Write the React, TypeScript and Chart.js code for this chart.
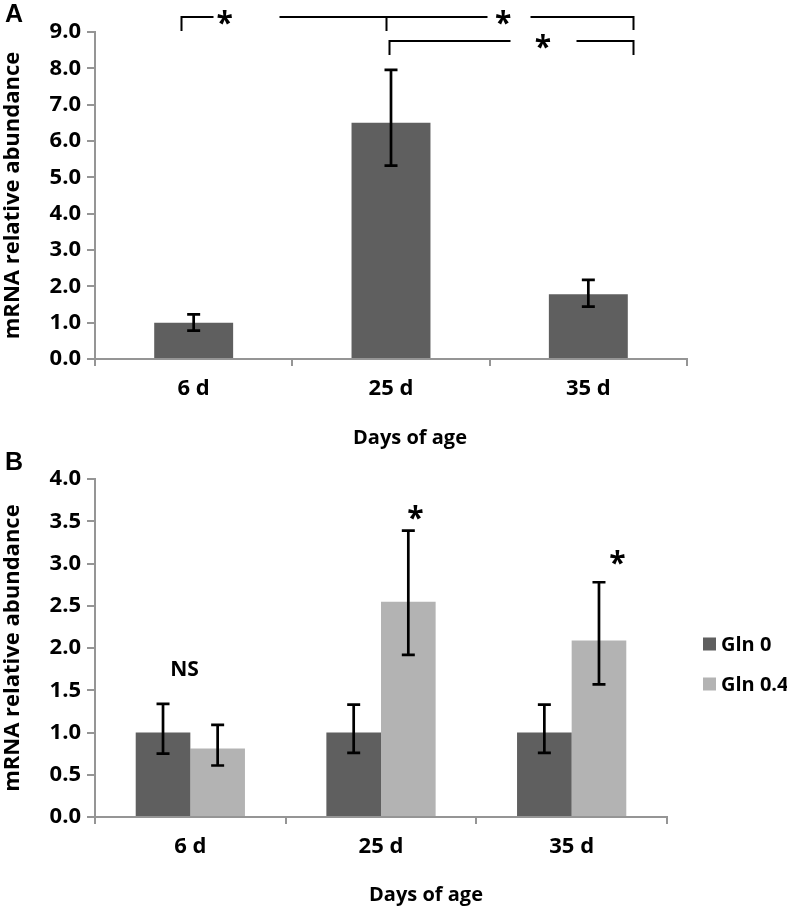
import React, { useEffect, useRef } from "react";
import { Chart, registerables } from "chart.js";

Chart.register(...registerables);

// ---------- data ----------
const categories = ["6 d", "25 d", "35 d"];

// Panel A
const aValues = [1.0, 6.5, 1.78];
const aErrPlus = [0.23, 1.46, 0.4];
const aErrMinus = [0.22, 1.18, 0.34];
const aYMax = 9;
const aYStep = 1;

// Panel B
const bSeriesLabels = ["Gln 0", "Gln 0.4"];
const bGln0 = [1.0, 1.0, 1.0];
const bGln0Plus = [0.34, 0.33, 0.33];
const bGln0Minus = [0.25, 0.24, 0.24];
const bGln04 = [0.81, 2.55, 2.09];
const bGln04Plus = [0.28, 0.84, 0.69];
const bGln04Minus = [0.2, 0.63, 0.52];
const bYMax = 4;
const bYStep = 0.5;

const xTitle = "Days of age";
const yTitle = "mRNA relative abundance";

// significance annotations (x in category index, y in data value)
const aBracketSegments = [
  [-0.066, 9.05, -0.066, 9.41],
  [-0.066, 9.41, 0.091, 9.41],
  [0.435, 9.41, 1.482, 9.41],
  [0.976, 9.41, 0.976, 9.05],
  [1.71, 9.41, 2.226, 9.41],
  [2.226, 9.41, 2.226, 9.08],
  [0.992, 8.39, 0.992, 8.75],
  [0.992, 8.75, 1.599, 8.75],
  [1.942, 8.75, 2.226, 8.75],
  [2.226, 8.75, 2.226, 8.39],
];
const aMarks: [string, number, number][] = [
  ["*", 0.157, 9.41],
  ["*", 1.568, 9.41],
  ["*", 1.77, 8.75],
];
const bMarks: [string, number, number][] = [
  ["NS", -0.03, 1.76],
  ["*", 1.18, 3.61],
  ["*", 2.24, 3.07],
];

// ---------- styles ----------
const DARK = "#5f5f5f";
const LIGHT = "#b3b3b3";
const AXIS = "#959595";
const FONT = "'Open Sans', 'Noto Sans', sans-serif";

const errorBarPlugin = {
  id: "errorBars",
  afterDatasetsDraw(chart: any) {
    const ctx = chart.ctx;
    const y = chart.scales.y;
    chart.data.datasets.forEach((ds: any, di: number) => {
      const meta = chart.getDatasetMeta(di);
      meta.data.forEach((el: any, i: number) => {
        const v = ds.data[i];
        const top = y.getPixelForValue(v + ds.errPlus[i]);
        const bot = y.getPixelForValue(v - ds.errMinus[i]);
        ctx.save();
        ctx.strokeStyle = "#000";
        ctx.lineWidth = 2.7;
        ctx.beginPath();
        ctx.moveTo(el.x, top);
        ctx.lineTo(el.x, bot);
        ctx.moveTo(el.x - 6.5, top);
        ctx.lineTo(el.x + 6.5, top);
        ctx.moveTo(el.x - 6.5, bot);
        ctx.lineTo(el.x + 6.5, bot);
        ctx.stroke();
        ctx.restore();
      });
    });
  },
};

function annotationPlugin(segments: number[][], marks: [string, number, number][], titleShift: number, titleFromBottom: number) {
  return {
    id: "annotations",
    afterDraw(chart: any) {
      const ctx = chart.ctx;
      const xs = chart.scales.x;
      const ys = chart.scales.y;
      ctx.save();
      ctx.strokeStyle = "#000";
      ctx.lineWidth = 2;
      ctx.lineCap = "square";
      ctx.beginPath();
      segments.forEach(([x1, y1, x2, y2]) => {
        ctx.moveTo(Math.round(xs.getPixelForValue(x1)) + 0.5, Math.round(ys.getPixelForValue(y1)));
        ctx.lineTo(Math.round(xs.getPixelForValue(x2)) + 0.5, Math.round(ys.getPixelForValue(y2)));
      });
      ctx.stroke();
      ctx.fillStyle = "#000";
      ctx.textAlign = "center";
      ctx.textBaseline = "alphabetic";
      marks.forEach(([t, xv, yv]) => {
        ctx.font = t === "*" ? `bold 30px ${FONT}` : `bold 21px ${FONT}`;
        const m = ctx.measureText(t);
        const px = xs.getPixelForValue(xv);
        const py = ys.getPixelForValue(yv) + (m.actualBoundingBoxAscent - m.actualBoundingBoxDescent) / 2;
        ctx.fillText(t, px, py);
      });
      // x-axis title
      ctx.font = `bold 20px ${FONT}`;
      ctx.textBaseline = "middle";
      ctx.fillText(xTitle, (xs.left + xs.right) / 2 + titleShift, chart.height - titleFromBottom);
      ctx.restore();
    },
  };
}

const legendPlugin = {
  id: "sideLegend",
  afterDraw(chart: any) {
    const ctx = chart.ctx;
    ctx.save();
    ctx.font = `bold 20px ${FONT}`;
    ctx.textBaseline = "middle";
    ctx.textAlign = "left";
    chart.data.datasets.forEach((ds: any, i: number) => {
      const cy = 184 + i * 40;
      ctx.fillStyle = ds.backgroundColor;
      ctx.fillRect(703, cy - 6.5, 13, 13);
      ctx.fillStyle = "#000";
      ctx.fillText(ds.label, 721, cy + 1);
    });
    ctx.restore();
  },
};

function makeOptions(yMax: number, yStep: number, xHeight: number, padTop: number, padRight: number) {
  return {
    animation: false,
    responsive: false,
    maintainAspectRatio: false,
    layout: { padding: { left: 0, right: padRight, top: padTop, bottom: 0 } },
    plugins: { legend: { display: false }, tooltip: { enabled: false } },
    scales: {
      x: {
        type: "category",
        offset: true,
        grid: { offset: true, drawOnChartArea: false, drawTicks: true, tickLength: 7, color: AXIS, lineWidth: 2 },
        border: { color: AXIS, width: 2 },
        ticks: { color: "#000", padding: 10, font: { family: FONT, size: 22, weight: "bold" } },
        title: { display: false, text: xTitle },
        afterFit(scale: any) {
          scale.height = xHeight;
        },
      },
      y: {
        min: 0,
        max: yMax,
        ticks: {
          stepSize: yStep,
          color: "#000",
          padding: 6,
          font: { family: FONT, size: 22, weight: "bold" },
          callback: (v: any) => Number(v).toFixed(1),
        },
        grid: { drawOnChartArea: false, drawTicks: true, tickLength: 8, color: AXIS, lineWidth: 2 },
        border: { color: AXIS, width: 2 },
        title: {
          display: true,
          text: yTitle,
          color: "#000",
          font: { family: FONT, size: 22, weight: "bold", lineHeight: 1.2 },
          padding: { top: 0, bottom: 0 },
        },
        afterFit(scale: any) {
          scale.width = 95;
        },
      },
    },
  };
}

function ChartA() {
  const ref = useRef<HTMLCanvasElement>(null);
  useEffect(() => {
    const chart = new Chart(ref.current as HTMLCanvasElement, {
      type: "bar",
      data: {
        labels: categories,
        datasets: [
          {
            label: "A",
            data: aValues,
            backgroundColor: DARK,
            borderWidth: 0,
            categoryPercentage: 1,
            barPercentage: 0.4,
            errPlus: aErrPlus,
            errMinus: aErrMinus,
          } as any,
        ],
      },
      options: makeOptions(aYMax, aYStep, 101, 32, 100) as any,
      plugins: [errorBarPlugin, annotationPlugin(aBracketSegments, aMarks, 19, 22)],
    });
    return () => chart.destroy();
  }, []);
  return <canvas ref={ref} width={787} height={460} style={{ position: "absolute", left: 0, top: 0, width: 787, height: 460 }} />;
}

function ChartB() {
  const ref = useRef<HTMLCanvasElement>(null);
  useEffect(() => {
    const chart = new Chart(ref.current as HTMLCanvasElement, {
      type: "bar",
      data: {
        labels: categories,
        datasets: [
          {
            label: bSeriesLabels[0],
            data: bGln0,
            backgroundColor: DARK,
            borderWidth: 0,
            categoryPercentage: 0.573,
            barPercentage: 1,
            errPlus: bGln0Plus,
            errMinus: bGln0Minus,
          } as any,
          {
            label: bSeriesLabels[1],
            data: bGln04,
            backgroundColor: LIGHT,
            borderWidth: 0,
            categoryPercentage: 0.573,
            barPercentage: 1,
            errPlus: bGln04Plus,
            errMinus: bGln04Minus,
          } as any,
        ],
      },
      options: makeOptions(bYMax, bYStep, 89, 17, 120) as any,
      plugins: [errorBarPlugin, annotationPlugin([], bMarks, 45, 11), legendPlugin],
    });
    return () => chart.destroy();
  }, []);
  return <canvas ref={ref} width={787} height={446} style={{ position: "absolute", left: 0, top: 460, width: 787, height: 446 }} />;
}

export default function App() {
  const panelLabel: React.CSSProperties = {
    position: "absolute",
    left: 5,
    fontFamily: "'Liberation Sans', Arial, sans-serif",
    fontWeight: "bold",
    fontSize: 25,
    lineHeight: "25px",
    color: "#000",
    zIndex: 2,
  };
  return (
    <div style={{ position: "absolute", left: 0, top: 0, width: 787, height: 906, background: "#fff" }}>
      <ChartA />
      <ChartB />
      <div style={{ ...panelLabel, top: 1 }}>A</div>
      <div style={{ ...panelLabel, top: 449 }}>B</div>
    </div>
  );
}
